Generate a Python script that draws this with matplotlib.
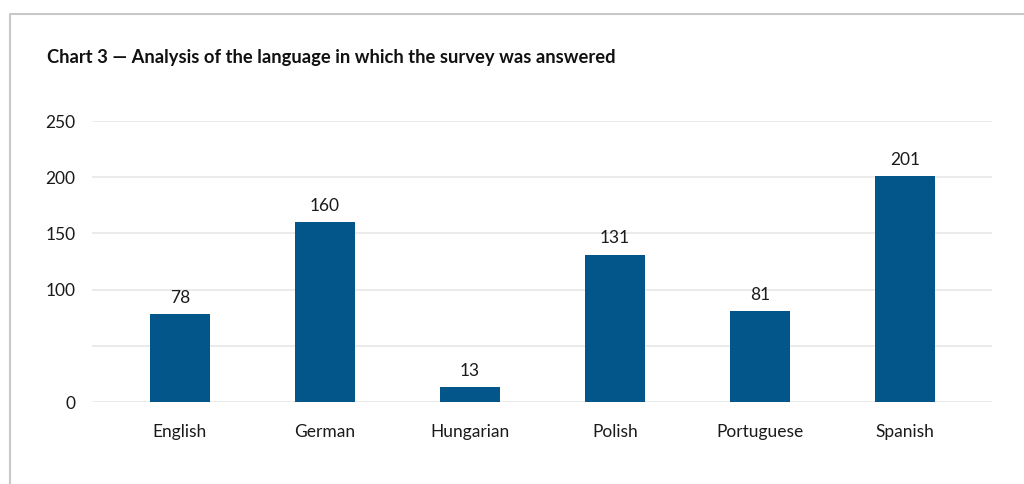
import matplotlib.pyplot as plt
from matplotlib.lines import Line2D

languages = ['English', 'German', 'Hungarian', 'Polish', 'Portuguese', 'Spanish']
responses = [78, 160, 13, 131, 81, 201]
y_ticks = [0, 50, 100, 150, 200, 250]
y_tick_labels = ['0', '', '100', '150', '200', '250']

plt.rcParams['font.family'] = ['Lato', 'DejaVu Sans']

fig = plt.figure(figsize=(10.24, 4.84), dpi=100)
ax = fig.add_axes([0.0898, 0.1694, 0.879, 0.5806])

x = range(len(languages))
bars = ax.bar(x, responses, width=0.42, color='#02568A', zorder=2)
for rect, v in zip(bars, responses):
    ax.annotate(str(v), (rect.get_x() + rect.get_width() / 2, v),
                xytext=(0, 6), textcoords='offset points',
                ha='center', va='bottom', fontsize=12.5, color='#1a1a1a')

ax.set_xlim(-0.607, 5.6)
ax.set_ylim(0, 250)
ax.set_yticks(y_ticks)
ax.set_yticklabels(y_tick_labels)
ax.set_xticks(list(x))
ax.set_xticklabels(languages)
ax.tick_params(axis='y', length=0, pad=12, labelsize=12.5, colors='#1a1a1a')
ax.tick_params(axis='x', length=0, pad=16, labelsize=12.5, colors='#1a1a1a')
ax.yaxis.grid(True, color='#E8E8E8', linewidth=1.2, zorder=0)
for s in ax.spines.values():
    s.set_visible(False)

fig.text(47 / 1024, 1 - 57 / 484,
         'Chart 3 \u2014 Analysis of the language in which the survey was answered',
         fontsize=13.2, fontweight='bold', va='center', ha='left', color='#111111')

# outer frame (top and left edge)
fig.add_artist(Line2D([10 / 1024, 10 / 1024, 1.0], [0.0, 1 - 14 / 484, 1 - 14 / 484],
                      transform=fig.transFigure, color='#C8C8C8', linewidth=1.5))

fig.savefig('out.png', dpi=100)
